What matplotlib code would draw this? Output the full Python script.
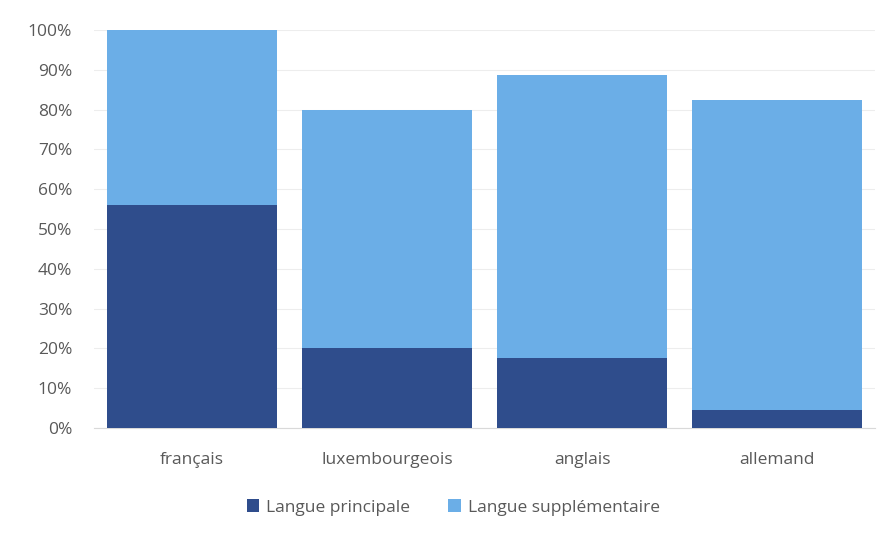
import numpy as np
import matplotlib.pyplot as plt
from matplotlib.ticker import PercentFormatter

# Données
langues = ['français', 'luxembourgeois', 'anglais', 'allemand']
principale = [56, 20, 17.6, 4.5]
totale = [100, 80, 88.7, 82.4]
supplementaire = [t - p for t, p in zip(totale, principale)]

plt.rcParams['font.family'] = ['Open Sans', 'DejaVu Sans']

fig = plt.figure(figsize=(8.9, 5.35), dpi=100)
ax = fig.add_axes([0.106, 0.2, 0.877, 0.744])

x = np.arange(len(langues))
ax.bar(x, principale, width=0.87, color='#2F4D8C', label='Langue principale', zorder=3)
ax.bar(x, supplementaire, width=0.87, bottom=principale, color='#6BAEE7',
       label='Langue supplémentaire', zorder=3)

ax.set_xlim(-0.5, len(langues) - 0.5)
ax.set_ylim(0, 100)
ax.set_yticks(np.arange(0, 101, 10))
ax.yaxis.set_major_formatter(PercentFormatter(decimals=0))
ax.set_xticks(x)
ax.set_xticklabels(langues)
ax.grid(axis='y', color='#EDEDED', linewidth=0.8, zorder=0)

for s in ['top', 'right', 'left']:
    ax.spines[s].set_visible(False)
ax.spines['bottom'].set_color('#D9D9D9')
ax.tick_params(axis='both', length=0, colors='#595959', labelsize=12.5)
ax.tick_params(axis='x', pad=17)
ax.tick_params(axis='y', pad=16)

ax.legend(loc='upper center', bbox_to_anchor=(0.46, -0.14), ncol=2, frameon=False,
          fontsize=12.5, labelcolor='#595959', handlelength=0.7, handleheight=0.7,
          handletextpad=0.4, columnspacing=2.2)

plt.savefig('out.png', dpi=100)
